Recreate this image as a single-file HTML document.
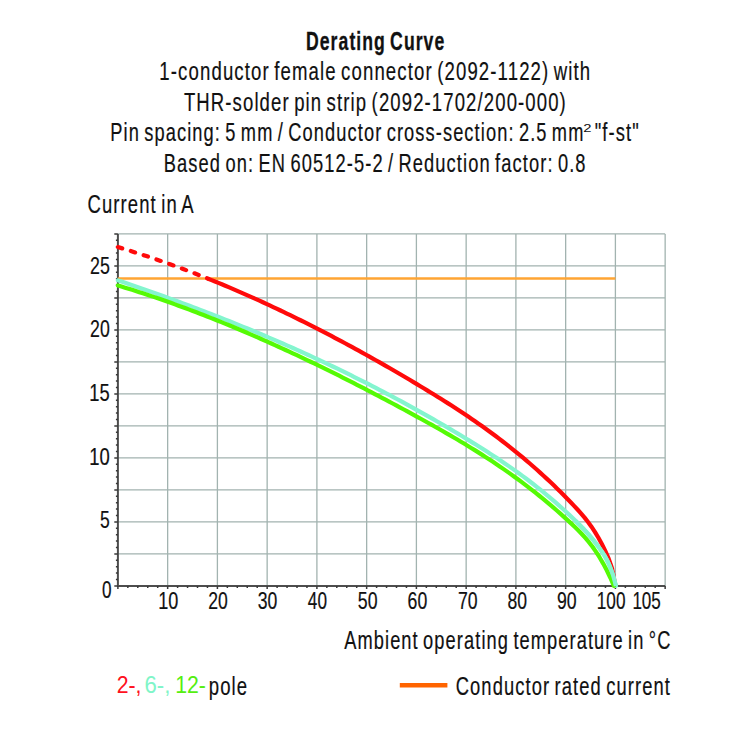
<!DOCTYPE html>
<html><head><meta charset="utf-8"><style>
html,body{margin:0;padding:0;background:#fff;width:750px;height:750px;overflow:hidden}
svg{display:block}
text{font-family:"Liberation Sans",sans-serif}
</style></head><body>
<svg width="750" height="750" viewBox="0 0 750 750">
<rect width="750" height="750" fill="#fff"/>
<path d="M167.65,233.90V585.90 M217.40,233.90V585.90 M267.15,233.90V585.90 M316.90,233.90V585.90 M366.65,233.90V585.90 M416.40,233.90V585.90 M466.15,233.90V585.90 M515.90,233.90V585.90 M565.65,233.90V585.90 M615.40,233.90V585.90 M665.15,233.90V585.90 M117.90,553.90H665.15 M117.90,521.90H665.15 M117.90,489.90H665.15 M117.90,457.90H665.15 M117.90,425.90H665.15 M117.90,393.90H665.15 M117.90,361.90H665.15 M117.90,329.90H665.15 M117.90,297.90H665.15 M117.90,265.90H665.15 M117.90,233.90H665.15" stroke="#a2b3b0" stroke-width="1.3" fill="none"/>
<path d="M117.90,233.90V585.90H665.15" stroke="#4d4d4d" stroke-width="2.0" fill="none"/>
<path d="M114.30,585.90H117.90 M115.90,579.50H117.90 M115.90,573.10H117.90 M115.90,566.70H117.90 M115.90,560.30H117.90 M114.30,553.90H117.90 M115.90,547.50H117.90 M115.90,541.10H117.90 M115.90,534.70H117.90 M115.90,528.30H117.90 M114.30,521.90H117.90 M115.90,515.50H117.90 M115.90,509.10H117.90 M115.90,502.70H117.90 M115.90,496.30H117.90 M114.30,489.90H117.90 M115.90,483.50H117.90 M115.90,477.10H117.90 M115.90,470.70H117.90 M115.90,464.30H117.90 M114.30,457.90H117.90 M115.90,451.50H117.90 M115.90,445.10H117.90 M115.90,438.70H117.90 M115.90,432.30H117.90 M114.30,425.90H117.90 M115.90,419.50H117.90 M115.90,413.10H117.90 M115.90,406.70H117.90 M115.90,400.30H117.90 M114.30,393.90H117.90 M115.90,387.50H117.90 M115.90,381.10H117.90 M115.90,374.70H117.90 M115.90,368.30H117.90 M114.30,361.90H117.90 M115.90,355.50H117.90 M115.90,349.10H117.90 M115.90,342.70H117.90 M115.90,336.30H117.90 M114.30,329.90H117.90 M115.90,323.50H117.90 M115.90,317.10H117.90 M115.90,310.70H117.90 M115.90,304.30H117.90 M114.30,297.90H117.90 M115.90,291.50H117.90 M115.90,285.10H117.90 M115.90,278.70H117.90 M115.90,272.30H117.90 M114.30,265.90H117.90 M115.90,259.50H117.90 M115.90,253.10H117.90 M115.90,246.70H117.90 M115.90,240.30H117.90 M114.30,233.90H117.90 M117.90,585.90V588.90 M127.85,585.90V587.90 M137.80,585.90V587.90 M147.75,585.90V587.90 M157.70,585.90V587.90 M167.65,585.90V588.90 M177.60,585.90V587.90 M187.55,585.90V587.90 M197.50,585.90V587.90 M207.45,585.90V587.90 M217.40,585.90V588.90 M227.35,585.90V587.90 M237.30,585.90V587.90 M247.25,585.90V587.90 M257.20,585.90V587.90 M267.15,585.90V588.90 M277.10,585.90V587.90 M287.05,585.90V587.90 M297.00,585.90V587.90 M306.95,585.90V587.90 M316.90,585.90V588.90 M326.85,585.90V587.90 M336.80,585.90V587.90 M346.75,585.90V587.90 M356.70,585.90V587.90 M366.65,585.90V588.90 M376.60,585.90V587.90 M386.55,585.90V587.90 M396.50,585.90V587.90 M406.45,585.90V587.90 M416.40,585.90V588.90 M426.35,585.90V587.90 M436.30,585.90V587.90 M446.25,585.90V587.90 M456.20,585.90V587.90 M466.15,585.90V588.90 M476.10,585.90V587.90 M486.05,585.90V587.90 M496.00,585.90V587.90 M505.95,585.90V587.90 M515.90,585.90V588.90 M525.85,585.90V587.90 M535.80,585.90V587.90 M545.75,585.90V587.90 M555.70,585.90V587.90 M565.65,585.90V588.90 M575.60,585.90V587.90 M585.55,585.90V587.90 M595.50,585.90V587.90 M605.45,585.90V587.90 M615.40,585.90V588.90 M625.35,585.90V587.90 M635.30,585.90V587.90 M645.25,585.90V587.90 M655.20,585.90V587.90 M665.15,585.90V588.90" stroke="#3a3a3a" stroke-width="1.5" fill="none"/>
<path d="M117.90,278.5H615.40" stroke="#ffa533" stroke-width="2.7" fill="none"/>
<path d="M117.90,247.07 L122.65,248.50 L127.40,249.96 L132.15,251.44 L136.90,252.95 L141.65,254.49 L146.40,256.05 L151.15,257.64 L155.90,259.25 L160.65,260.89 L165.40,262.56 L170.15,264.25 L174.90,265.97 L179.65,267.72 L184.40,269.49 L189.15,271.28 L193.90,273.10 L198.65,274.94 L203.40,276.81 L208.15,278.71" stroke="#ff0a0a" stroke-width="4.2" fill="none" stroke-dasharray="4.5 9" stroke-linecap="round"/>
<path d="M208.15,278.71 L211.57,280.09 L214.99,281.48 L218.41,282.88 L221.84,284.30 L225.26,285.73 L228.68,287.17 L232.10,288.63 L235.52,290.10 L238.95,291.58 L242.37,293.07 L245.79,294.57 L249.21,296.09 L252.64,297.62 L256.06,299.16 L259.48,300.71 L262.90,302.27 L266.33,303.85 L269.75,305.44 L273.17,307.03 L276.59,308.65 L280.01,310.27 L283.44,311.90 L286.86,313.55 L290.28,315.21 L293.70,316.88 L297.13,318.56 L300.55,320.25 L303.97,321.95 L307.39,323.67 L310.82,325.39 L314.24,327.13 L317.66,328.88 L321.08,330.63 L324.50,332.40 L327.93,334.18 L331.35,335.98 L334.77,337.78 L338.19,339.59 L341.62,341.42 L345.04,343.25 L348.46,345.09 L351.88,346.95 L355.31,348.82 L358.73,350.69 L362.15,352.58 L365.57,354.48 L368.99,356.39 L372.42,358.30 L375.84,360.23 L379.26,362.17 L382.68,364.12 L386.11,366.08 L389.53,368.04 L392.95,370.02 L396.37,372.01 L399.80,374.01 L403.22,376.02 L406.64,378.03 L410.06,380.06 L413.48,382.10 L416.91,384.14 L420.33,386.20 L423.75,388.27 L427.17,390.35 L430.60,392.44 L434.02,394.54 L437.44,396.66 L440.86,398.80 L444.29,400.95 L447.71,403.13 L451.13,405.32 L454.55,407.53 L457.97,409.76 L461.40,412.02 L464.82,414.30 L468.24,416.60 L471.66,418.93 L475.09,421.29 L478.51,423.67 L481.93,426.08 L485.35,428.53 L488.77,431.00 L492.20,433.51 L495.62,436.05 L499.04,438.62 L502.46,441.23 L505.89,443.88 L509.31,446.56 L512.73,449.28 L516.15,452.04 L519.58,454.84 L523.00,457.69 L526.42,460.57 L529.84,463.50 L533.26,466.48 L536.69,469.50 L540.11,472.57 L543.53,475.69 L546.95,478.85 L550.38,482.07 L553.80,485.34 L557.22,488.66 L560.64,492.03 L564.07,495.46 L567.49,498.94 L570.91,502.48 L574.33,506.08 L577.75,509.76 L581.18,513.59 L584.60,517.63 L588.02,521.98 L591.44,526.69 L594.87,531.84 L598.29,537.51 L601.71,543.77 L605.13,550.69 L608.56,558.34 L611.98,568.22 L615.40,585.89" stroke="#ff0a0a" stroke-width="4.2" fill="none" stroke-linejoin="round"/>
<path d="M117.90,280.38 L121.48,281.59 L125.07,282.80 L128.65,284.02 L132.23,285.25 L135.81,286.48 L139.40,287.72 L142.98,288.96 L146.56,290.21 L150.14,291.47 L153.73,292.74 L157.31,294.01 L160.89,295.29 L164.48,296.57 L168.06,297.87 L171.64,299.17 L175.22,300.48 L178.81,301.79 L182.39,303.12 L185.97,304.45 L189.55,305.78 L193.14,307.13 L196.72,308.48 L200.30,309.85 L203.89,311.21 L207.47,312.59 L211.05,313.98 L214.63,315.37 L218.22,316.77 L221.80,318.19 L225.38,319.60 L228.96,321.03 L232.55,322.47 L236.13,323.91 L239.71,325.37 L243.30,326.83 L246.88,328.30 L250.46,329.78 L254.04,331.27 L257.63,332.77 L261.21,334.28 L264.79,335.79 L268.37,337.32 L271.96,338.86 L275.54,340.40 L279.12,341.96 L282.70,343.53 L286.29,345.10 L289.87,346.69 L293.45,348.28 L297.04,349.89 L300.62,351.50 L304.20,353.13 L307.78,354.76 L311.37,356.41 L314.95,358.07 L318.53,359.73 L322.11,361.41 L325.70,363.10 L329.28,364.80 L332.86,366.51 L336.45,368.23 L340.03,369.97 L343.61,371.71 L347.19,373.46 L350.78,375.23 L354.36,377.01 L357.94,378.80 L361.52,380.60 L365.11,382.41 L368.69,384.23 L372.27,386.07 L375.86,387.92 L379.44,389.78 L383.02,391.65 L386.60,393.53 L390.19,395.43 L393.77,397.34 L397.35,399.26 L400.93,401.19 L404.52,403.14 L408.10,405.10 L411.68,407.07 L415.27,409.05 L418.85,411.05 L422.43,413.06 L426.01,415.08 L429.60,417.11 L433.18,419.16 L436.76,421.22 L440.34,423.30 L443.93,425.39 L447.51,427.49 L451.09,429.61 L454.68,431.74 L458.26,433.88 L461.84,436.04 L465.42,438.21 L469.01,440.39 L472.59,442.59 L476.17,444.81 L479.75,447.05 L483.34,449.31 L486.92,451.59 L490.50,453.90 L494.09,456.23 L497.67,458.60 L501.25,460.99 L504.83,463.42 L508.42,465.88 L512.00,468.38 L515.58,470.91 L519.16,473.49 L522.75,476.11 L526.33,478.78 L529.91,481.49 L533.50,484.24 L537.08,487.05 L540.66,489.91 L544.24,492.83 L547.83,495.80 L551.41,498.83 L554.99,501.91 L558.57,505.06 L562.16,508.28 L565.74,511.55 L569.32,514.90 L572.90,518.31 L576.49,521.80 L580.07,525.38 L583.65,529.08 L587.24,532.96 L590.82,537.07 L594.40,541.44 L597.98,546.12 L601.57,551.15 L605.15,556.71 L608.73,563.63 L612.31,573.00 L615.90,585.90" stroke="#84f5cf" stroke-width="4.2" fill="none" stroke-linejoin="round" stroke-linecap="round"/>
<path d="M117.90,285.47 L121.47,286.55 L125.04,287.64 L128.61,288.75 L132.17,289.87 L135.74,291.00 L139.31,292.15 L142.88,293.31 L146.45,294.48 L150.02,295.67 L153.58,296.87 L157.15,298.09 L160.72,299.31 L164.29,300.56 L167.86,301.81 L171.43,303.08 L174.99,304.36 L178.56,305.65 L182.13,306.96 L185.70,308.28 L189.27,309.61 L192.84,310.95 L196.40,312.31 L199.97,313.68 L203.54,315.06 L207.11,316.45 L210.68,317.85 L214.25,319.27 L217.82,320.70 L221.38,322.14 L224.95,323.59 L228.52,325.06 L232.09,326.53 L235.66,328.02 L239.23,329.52 L242.79,331.03 L246.36,332.55 L249.93,334.08 L253.50,335.62 L257.07,337.18 L260.64,338.74 L264.20,340.32 L267.77,341.91 L271.34,343.50 L274.91,345.11 L278.48,346.73 L282.05,348.36 L285.61,349.99 L289.18,351.64 L292.75,353.30 L296.32,354.97 L299.89,356.65 L303.46,358.34 L307.03,360.04 L310.59,361.74 L314.16,363.46 L317.73,365.19 L321.30,366.92 L324.87,368.67 L328.44,370.42 L332.00,372.19 L335.57,373.96 L339.14,375.74 L342.71,377.53 L346.28,379.33 L349.85,381.14 L353.41,382.96 L356.98,384.78 L360.55,386.62 L364.12,388.46 L367.69,390.31 L371.26,392.17 L374.82,394.04 L378.39,395.91 L381.96,397.79 L385.53,399.68 L389.10,401.58 L392.67,403.49 L396.24,405.40 L399.80,407.32 L403.37,409.25 L406.94,411.19 L410.51,413.13 L414.08,415.08 L417.65,417.04 L421.21,419.00 L424.78,420.97 L428.35,422.96 L431.92,424.95 L435.49,426.96 L439.06,428.97 L442.62,431.01 L446.19,433.06 L449.76,435.12 L453.33,437.20 L456.90,439.30 L460.47,441.43 L464.03,443.57 L467.60,445.73 L471.17,447.92 L474.74,450.14 L478.31,452.38 L481.88,454.64 L485.45,456.94 L489.01,459.26 L492.58,461.61 L496.15,464.00 L499.72,466.41 L503.29,468.87 L506.86,471.35 L510.42,473.88 L513.99,476.44 L517.56,479.03 L521.13,481.67 L524.70,484.35 L528.27,487.07 L531.83,489.83 L535.40,492.64 L538.97,495.50 L542.54,498.39 L546.11,501.34 L549.68,504.34 L553.24,507.38 L556.81,510.48 L560.38,513.63 L563.95,516.83 L567.52,520.09 L571.09,523.40 L574.66,526.78 L578.22,530.29 L581.79,533.99 L585.36,537.94 L588.93,542.20 L592.50,546.83 L596.07,551.89 L599.63,557.45 L603.20,563.57 L606.77,570.31 L610.34,577.73 L613.91,585.89" stroke="#55fa05" stroke-width="4.2" fill="none" stroke-linejoin="round" stroke-linecap="round"/>
<path d="M575.60,520.93 L576.63,521.94 L577.67,522.96 L578.70,523.99 L579.73,525.03 L580.77,526.08 L581.80,527.14 L582.83,528.22 L583.87,529.31 L584.90,530.41 L585.93,531.53 L586.97,532.66 L588.00,533.82 L589.03,534.99 L590.07,536.19 L591.10,537.40 L592.13,538.64 L593.17,539.90 L594.20,541.18 L595.23,542.49 L596.27,543.83 L597.30,545.20 L598.33,546.59 L599.37,548.01 L600.40,549.47 L601.43,550.96 L602.46,552.48 L603.50,554.05 L604.53,555.69 L605.56,557.42 L606.60,559.28 L607.63,561.30 L608.66,563.48 L609.70,565.87 L610.73,568.49 L611.76,571.36 L612.80,574.51 L613.83,577.97 L614.86,581.75 L615.90,585.90" stroke="#84f5cf" stroke-width="4.2" fill="none" stroke-linejoin="round"/>
<path d="M399.8,685.3H447.4" stroke="#ff6400" stroke-width="4.6" fill="none"/>
<g fill="#111">
<text x="305.99" y="49.90" font-size="25" font-weight="bold" fill="#111111" stroke="#111111" stroke-width="0.3" letter-spacing="1.5" word-spacing="-2.5" textLength="139.34" lengthAdjust="spacingAndGlyphs">Derating Curve</text>
<text x="159.37" y="80.20" font-size="25" font-weight="normal" fill="#111111" stroke="#111111" stroke-width="0.2" letter-spacing="1.5" word-spacing="-2.5" textLength="431.91" lengthAdjust="spacingAndGlyphs">1-conductor female connector (2092-1122) with</text>
<text x="183.88" y="111.00" font-size="25" font-weight="normal" fill="#111111" stroke="#111111" stroke-width="0.2" letter-spacing="1.5" word-spacing="-2.5" textLength="383.00" lengthAdjust="spacingAndGlyphs">THR-solder pin strip (2092-1702/200-000)</text>
<text x="110.24" y="141.10" font-size="25" font-weight="normal" fill="#111111" stroke="#111111" stroke-width="0.2" letter-spacing="1.5" word-spacing="-2.5" textLength="474.23" lengthAdjust="spacingAndGlyphs">Pin spacing: 5 mm / Conductor cross-section: 2.5 mm</text>
<text x="583.34" y="132.40" font-size="11" font-weight="normal" fill="#111111" stroke="#111111" stroke-width="0" letter-spacing="0" word-spacing="0" textLength="8.25" lengthAdjust="spacingAndGlyphs">2</text>
<text x="594.75" y="141.10" font-size="25" font-weight="normal" fill="#111111" stroke="#111111" stroke-width="0.2" letter-spacing="1.5" word-spacing="-2.5" textLength="45.08" lengthAdjust="spacingAndGlyphs">"f-st"</text>
<text x="163.76" y="171.50" font-size="25" font-weight="normal" fill="#111111" stroke="#111111" stroke-width="0.2" letter-spacing="1.5" word-spacing="-2.5" textLength="422.87" lengthAdjust="spacingAndGlyphs">Based on: EN 60512-5-2 / Reduction factor: 0.8</text>
<text x="87.55" y="213.40" font-size="25" font-weight="normal" fill="#111111" stroke="#111111" stroke-width="0.2" letter-spacing="1.5" word-spacing="-2.5" textLength="107.04" lengthAdjust="spacingAndGlyphs">Current in A</text>
<text x="344.20" y="649.30" font-size="25" font-weight="normal" fill="#111111" stroke="#111111" stroke-width="0.2" letter-spacing="1.5" word-spacing="-2.5" textLength="327.31" lengthAdjust="spacingAndGlyphs">Ambient operating temperature in °C</text>
<text x="455.73" y="694.90" font-size="25" font-weight="normal" fill="#111111" stroke="#111111" stroke-width="0.2" letter-spacing="1.5" word-spacing="-2.5" textLength="215.24" lengthAdjust="spacingAndGlyphs">Conductor rated current</text>
<text x="116.70" y="692.60" font-size="24" font-weight="normal" fill="#ff1020" stroke="#ff1020" stroke-width="0" letter-spacing="0" word-spacing="0" textLength="24.81" lengthAdjust="spacingAndGlyphs">2-,</text>
<text x="144.51" y="692.60" font-size="24" font-weight="normal" fill="#80f5c8" stroke="#80f5c8" stroke-width="0" letter-spacing="0" word-spacing="0" textLength="25.84" lengthAdjust="spacingAndGlyphs">6-,</text>
<text x="175.16" y="692.60" font-size="24" font-weight="normal" fill="#55ee10" stroke="#55ee10" stroke-width="0" letter-spacing="0" word-spacing="0" textLength="30.75" lengthAdjust="spacingAndGlyphs">12-</text>
<text x="208.73" y="695.20" font-size="25" font-weight="normal" fill="#111111" stroke="#111111" stroke-width="0.2" letter-spacing="1.5" word-spacing="-2.5" textLength="39.51" lengthAdjust="spacingAndGlyphs">pole</text>
<text x="102.04" y="598.30" font-size="24" font-weight="normal" fill="#111111" stroke="#111111" stroke-width="0.2" letter-spacing="0" word-spacing="0" textLength="9.55" lengthAdjust="spacingAndGlyphs">0</text>
<text x="100.11" y="528.20" font-size="24" font-weight="normal" fill="#111111" stroke="#111111" stroke-width="0.2" letter-spacing="0" word-spacing="0" textLength="9.75" lengthAdjust="spacingAndGlyphs">5</text>
<text x="89.37" y="464.70" font-size="24" font-weight="normal" fill="#111111" stroke="#111111" stroke-width="0.2" letter-spacing="0" word-spacing="0" textLength="20.52" lengthAdjust="spacingAndGlyphs">10</text>
<text x="89.36" y="401.30" font-size="24" font-weight="normal" fill="#111111" stroke="#111111" stroke-width="0.2" letter-spacing="0" word-spacing="0" textLength="20.38" lengthAdjust="spacingAndGlyphs">15</text>
<text x="90.12" y="337.40" font-size="24" font-weight="normal" fill="#111111" stroke="#111111" stroke-width="0.2" letter-spacing="0" word-spacing="0" textLength="19.70" lengthAdjust="spacingAndGlyphs">20</text>
<text x="90.10" y="274.20" font-size="24" font-weight="normal" fill="#111111" stroke="#111111" stroke-width="0.2" letter-spacing="0" word-spacing="0" textLength="19.82" lengthAdjust="spacingAndGlyphs">25</text>
<text x="158.26" y="608.50" font-size="24" font-weight="normal" fill="#111111" stroke="#111111" stroke-width="0.2" letter-spacing="0" word-spacing="0" textLength="20.11" lengthAdjust="spacingAndGlyphs">10</text>
<text x="208.29" y="608.50" font-size="24" font-weight="normal" fill="#111111" stroke="#111111" stroke-width="0.2" letter-spacing="0" word-spacing="0" textLength="19.57" lengthAdjust="spacingAndGlyphs">20</text>
<text x="257.79" y="608.50" font-size="24" font-weight="normal" fill="#111111" stroke="#111111" stroke-width="0.2" letter-spacing="0" word-spacing="0" textLength="19.58" lengthAdjust="spacingAndGlyphs">30</text>
<text x="307.87" y="608.50" font-size="24" font-weight="normal" fill="#111111" stroke="#111111" stroke-width="0.2" letter-spacing="0" word-spacing="0" textLength="19.11" lengthAdjust="spacingAndGlyphs">40</text>
<text x="357.80" y="608.50" font-size="24" font-weight="normal" fill="#111111" stroke="#111111" stroke-width="0.2" letter-spacing="0" word-spacing="0" textLength="19.72" lengthAdjust="spacingAndGlyphs">50</text>
<text x="407.58" y="608.50" font-size="24" font-weight="normal" fill="#111111" stroke="#111111" stroke-width="0.2" letter-spacing="0" word-spacing="0" textLength="19.67" lengthAdjust="spacingAndGlyphs">60</text>
<text x="458.03" y="608.50" font-size="24" font-weight="normal" fill="#111111" stroke="#111111" stroke-width="0.2" letter-spacing="0" word-spacing="0" textLength="19.64" lengthAdjust="spacingAndGlyphs">70</text>
<text x="507.55" y="608.50" font-size="24" font-weight="normal" fill="#111111" stroke="#111111" stroke-width="0.2" letter-spacing="0" word-spacing="0" textLength="19.55" lengthAdjust="spacingAndGlyphs">80</text>
<text x="557.03" y="608.50" font-size="24" font-weight="normal" fill="#111111" stroke="#111111" stroke-width="0.2" letter-spacing="0" word-spacing="0" textLength="19.69" lengthAdjust="spacingAndGlyphs">90</text>
<text x="596.77" y="608.50" font-size="24" font-weight="normal" fill="#111111" stroke="#111111" stroke-width="0.2" letter-spacing="0" word-spacing="0" textLength="28.70" lengthAdjust="spacingAndGlyphs">100</text>
<text x="632.39" y="608.50" font-size="24" font-weight="normal" fill="#111111" stroke="#111111" stroke-width="0.2" letter-spacing="0" word-spacing="0" textLength="28.48" lengthAdjust="spacingAndGlyphs">105</text>


</g>
</svg>
</body></html>
